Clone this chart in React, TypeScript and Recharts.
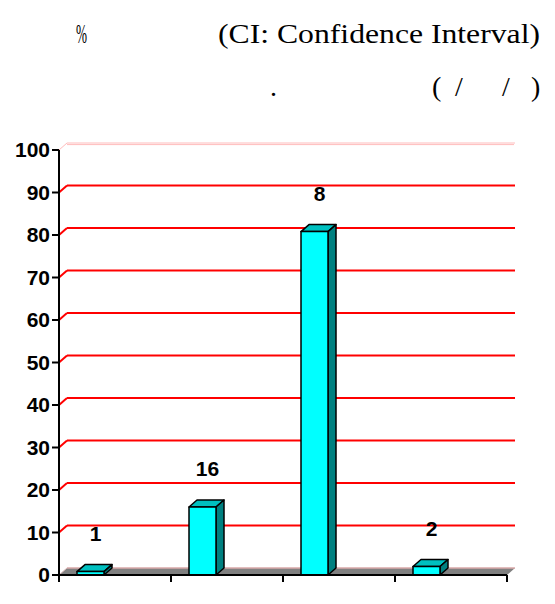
import { Bar, BarChart, CartesianGrid, LabelList, XAxis, YAxis } from "recharts";

const categories = ["g1", "g2", "g3", "g4"];
const values = [0.8, 16, 80.8, 2];
const barLabels = ["1", "16", "8", "2"];
const yTicks = [0, 10, 20, 30, 40, 50, 60, 70, 80, 90, 100];

const data = categories.map((name, i) => ({ name, value: values[i], label: barLabels[i] }));

const WIDTH = 555;
const HEIGHT = 604;
const Y_AXIS_W = 59;
const X_AXIS_H = 29;
const margin = { top: 150, right: 48, bottom: 0, left: 0 };
const PLOT_TOP = margin.top;
const PLOT_BOTTOM = HEIGHT - X_AXIS_H;
const HALF_BAND = (WIDTH - Y_AXIS_W - margin.right) / categories.length / 2;

// 3D depth of the back wall and bars
const DX = 8;
const DY = 7;
const BAR_SHIFT = -25;

const axisFont = { fontFamily: "'Liberation Sans', Arial, sans-serif", fontWeight: 700 };

function GridLine(props: any) {
  const { x1, x2, y1 } = props;
  if (Math.abs(y1 - PLOT_BOTTOM) < 0.5) {
    return (
      <g key={props.key}>
        <polygon
          points={`${x1},${y1} ${x2},${y1} ${x2 + DX},${y1 - DY} ${x1 + DX},${y1 - DY}`}
          fill="#808080"
        />
        <line x1={x1 + DX} y1={y1 - DY} x2={x2 + DX} y2={y1 - DY} stroke="#d8a8a8" strokeWidth={1.5} />
        <line x1={x1} y1={y1} x2={x1 + DX} y2={y1 - DY} stroke="#d8b8b8" strokeWidth={1} />
      </g>
    );
  }
  if (Math.abs(y1 - PLOT_TOP) < 0.5) {
    return (
      <g key={props.key}>
        <line x1={x1} y1={y1} x2={x1 + DX} y2={y1 - DY} stroke="#ffbcbc" strokeWidth={1} />
        <line x1={x1 + DX} y1={y1 - DY} x2={x2 + DX} y2={y1 - DY} stroke="#ffbcbc" strokeWidth={1} />
        <line x1={x1 + DX} y1={y1 - DY + 1.6} x2={x2 + DX - 1} y2={y1 - DY + 1.6} stroke="#ffbcbc" strokeWidth={1} />
      </g>
    );
  }
  return (
    <g key={props.key}>
      <line x1={x1} y1={y1} x2={x1 + DX} y2={y1 - DY} stroke="#ff0000" strokeWidth={2} />
      <line x1={x1 + DX} y1={y1 - DY} x2={x2 + DX} y2={y1 - DY} stroke="#ff0000" strokeWidth={2} />
    </g>
  );
}

function Bar3D(props: any) {
  const { x, y, width, height } = props;
  const fx = x + BAR_SHIFT;
  const bottom = y + height;
  return (
    <g stroke="#000" strokeWidth={1.5} strokeLinejoin="round">
      <polygon
        points={`${fx},${y} ${fx + DX},${y - DY} ${fx + width + DX},${y - DY} ${fx + width},${y}`}
        fill="#00c0c0"
      />
      <polygon
        points={`${fx + width},${y} ${fx + width + DX},${y - DY} ${fx + width + DX},${bottom - DY} ${fx + width},${bottom}`}
        fill="#008080"
      />
      <rect x={fx} y={y} width={width} height={height} fill="#00ffff" />
    </g>
  );
}

function BarLabel(props: any) {
  const { x, y, width, value } = props;
  return (
    <text
      x={x + width / 2 + BAR_SHIFT + 5}
      y={y - 38}
      dy="0.355em"
      textAnchor="middle"
      fontSize={21}
      fill="#000"
      style={axisFont}
    >
      {value}
    </text>
  );
}

function BoundaryTick(props: any) {
  const { x, index } = props;
  const last = index === categories.length - 1;
  const y = PLOT_BOTTOM;
  return (
    <g stroke="#000" strokeWidth={2}>
      <line x1={x - HALF_BAND} y1={y} x2={x - HALF_BAND} y2={y + 7} />
      {last ? <line x1={x + HALF_BAND} y1={y} x2={x + HALF_BAND} y2={y + 7} /> : null}
    </g>
  );
}

export default function App() {
  return (
    <div style={{ position: "absolute", left: 0, top: 0, width: WIDTH, height: HEIGHT, background: "#fff" }}>
      <BarChart width={WIDTH} height={HEIGHT} data={data} margin={margin}>
        <CartesianGrid vertical={false} horizontal={GridLine as any} />
        <XAxis
          dataKey="name"
          height={X_AXIS_H}
          tickLine={false}
          tickSize={0}
          tickMargin={0}
          axisLine={{ stroke: "#000", strokeWidth: 2 }}
          tick={<BoundaryTick />}
        />
        <YAxis
          width={Y_AXIS_W}
          domain={[0, 100]}
          ticks={yTicks}
          interval={0}
          tickSize={7}
          tickMargin={2}
          axisLine={{ stroke: "#000", strokeWidth: 2 }}
          tickLine={{ stroke: "#000", strokeWidth: 2 }}
          tick={{ fill: "#000", fontSize: 21, ...axisFont }}
        />
        <Bar dataKey="value" barSize={27} shape={<Bar3D />} isAnimationActive={false}>
          <LabelList dataKey="label" content={<BarLabel />} />
        </Bar>
      </BarChart>
      <svg
        width={WIDTH}
        height={120}
        style={{ position: "absolute", left: 0, top: 0, pointerEvents: "none" }}
        fontFamily="'Liberation Serif', 'Times New Roman', serif"
        fontSize={28}
        fill="#000"
      >
        <text x={76} y={43} textLength={11} lengthAdjust="spacingAndGlyphs">%</text>
        <text x={540} y={43} textAnchor="end" textLength={322} lengthAdjust="spacingAndGlyphs">
          (CI: Confidence Interval)
        </text>
        <text x={270} y={96}>.</text>
        <text x={432} y={96}>(</text>
        <text x={455} y={96}>/</text>
        <text x={502} y={96}>/</text>
        <text x={531} y={96}>)</text>
      </svg>
    </div>
  );
}
